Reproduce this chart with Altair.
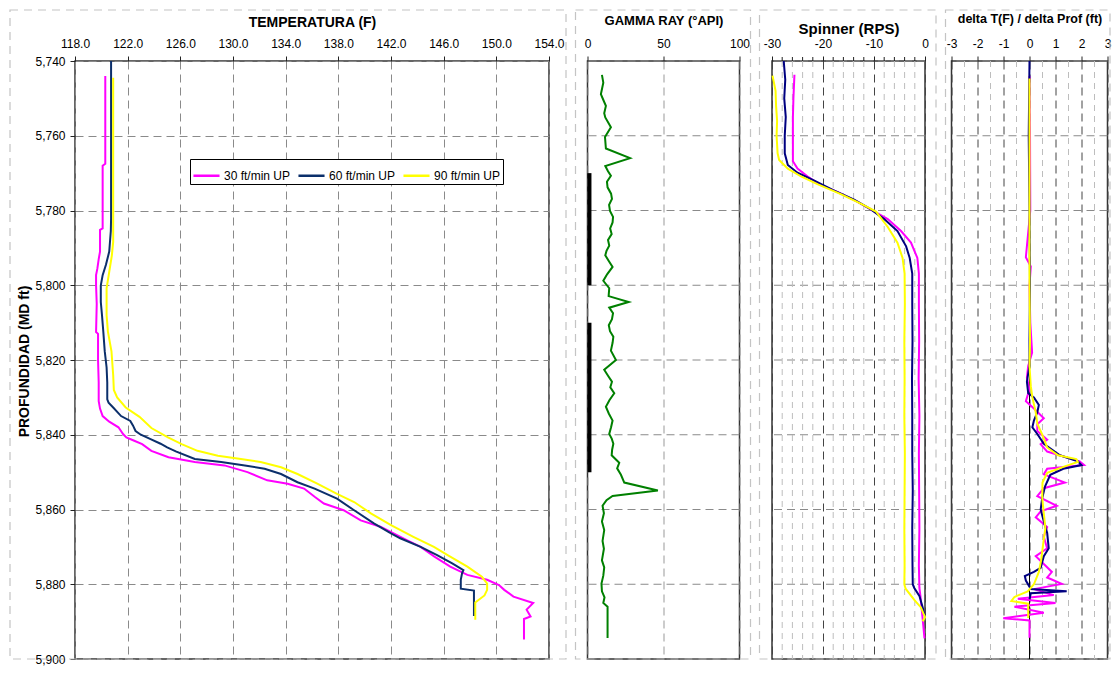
import altair as alt
import pandas as pd

FONT = "Liberation Sans"

# ---------------- data ----------------
series_names = ["30 ft/min UP", "60 ft/min UP", "90 ft/min UP"]
temp_colors = ["#FF00FF", "#0B2F6B", "#FFFF00"]
line_colors = ["#FF00FF", "#000080", "#FFFF00"]

depth_ticks = [5740, 5760, 5780, 5800, 5820, 5840, 5860, 5880, 5900]
temp_ticks = [118, 122, 126, 130, 134, 138, 142, 146, 150, 154]
gamma_ticks = [0, 50, 100]
spin_ticks = [-30, -20, -10, 0]
spin_minor = [-28, -26, -24, -22, -18, -16, -14, -12, -8, -6, -4, -2]
delta_ticks = [-3, -2, -1, 0, 1, 2, 3]
delta_minor = [-2.5, -1.5, -0.5, 0.5, 1.5, 2.5]

# temperature (F)
t30_depth = [5744, 5750, 5760, 5767.5, 5768, 5775, 5784.8, 5785.2, 5791, 5793, 5795.5, 5797.3, 5800, 5805,
             5812.5, 5813, 5820, 5826, 5831, 5833, 5835, 5836.5, 5838, 5839.8, 5840.7, 5841.6, 5842.5, 5844.3,
             5846, 5847.3, 5848.2, 5850, 5852.2, 5853.1, 5854.4, 5856.6, 5858.4, 5860.2, 5862.9, 5864.6, 5868.2,
             5870, 5872.6, 5875.3, 5877.5, 5878.8, 5880.2, 5881.5, 5883.3, 5885, 5886.8, 5888.6, 5889.3, 5894.8]
t30_temp = [120.3, 120.3, 120.3, 120.3, 120.1, 120.1, 120.1, 119.9, 119.9, 119.8, 119.7, 119.6, 119.6, 119.65,
            119.6, 119.75, 119.75, 119.8, 119.8, 119.9, 120.1, 120.6, 121.3, 121.65, 121.9, 122.5, 123.1, 123.8,
            125.1, 127.1, 129.35, 131.1, 132.6, 134.15, 135.4, 136.2, 136.9, 138.4, 139.7, 141.2, 143.2,
            144.25, 145.3, 146.5, 147.8, 149.3, 150.2, 150.6, 151.3, 152.8, 152.3, 152.6, 152.1, 152.1]
t60_depth = [5740, 5760, 5782.2, 5785.5, 5791, 5794.5, 5797.3, 5800, 5804.5, 5808, 5812.4, 5817.7, 5822, 5826,
             5830.5, 5831.4, 5832.7, 5835, 5836.3, 5837.5, 5839, 5840, 5841.1, 5842.4, 5843.4, 5844.5, 5846.5,
             5847.3, 5848.2, 5849.1, 5850.5, 5852.7, 5854.4, 5857.1, 5860.2, 5863.7, 5866.4, 5867.7, 5870,
             5872.2, 5874.4, 5876.2, 5877, 5878.8, 5881.2, 5881.7, 5882.5, 5888.5]
t60_temp = [120.74, 120.74, 120.74, 120.72, 120.6, 120.35, 120.1, 119.96, 119.96, 120.05, 120.15, 120.26, 120.4,
            120.45, 120.45, 120.55, 120.9, 121.5, 122.2, 122.4, 122.6, 123.0, 123.7, 124.5, 125.0, 125.7, 127.1,
            129.1, 130.9, 132.4, 133.65, 134.9, 136.2, 137.9, 139.2, 140.7, 142.0, 142.7, 144.25,
            145.5, 146.65, 147.5, 147.4, 147.3, 147.3, 148.3, 148.3, 148.3]
t90_depth = [5744.5, 5760, 5788.4, 5792, 5796.4, 5800.8, 5808, 5812.4, 5817.7, 5824, 5828, 5830, 5832.7, 5835.2,
             5838.2, 5840.7, 5842.5, 5844.3, 5845.6, 5846.5, 5847.3, 5848.7, 5850.5, 5853.1, 5855.8, 5858,
             5861.1, 5864.2, 5867.3, 5870, 5872.2, 5875.3, 5878, 5879.8, 5881.5, 5883, 5884.9, 5889.5]
t90_temp = [120.9, 120.9, 120.9, 120.8, 120.6, 120.4, 120.4, 120.5, 120.77, 120.9, 120.95, 121.2, 121.85, 122.9,
            123.8, 125.06, 126.1, 127.3, 128.85, 130.6, 132.1, 133.65, 134.9, 136.4, 137.9, 139.2,
            140.5, 142.0, 143.7, 145.26, 146.3, 147.8, 148.9, 149.3, 149.3, 149.1, 148.4, 148.4]

# gamma ray (API)
gamma_depth = [5743.7, 5745.8, 5748.9, 5750.5, 5752, 5754, 5755.1, 5757.7, 5760.3, 5763.4, 5766, 5768.1, 5769.5,
               5770.7, 5772.3, 5773.8, 5775.5, 5776.9, 5778.5, 5780.1, 5781.7, 5783.2, 5784.8, 5786.3, 5787.9,
               5789.4, 5790.8, 5792, 5793.5, 5795.1, 5797, 5798.8, 5800.8, 5802.9, 5804.5, 5806, 5807.5, 5809.1,
               5810.7, 5812.3, 5813.8, 5815.4, 5817.5, 5820, 5822.6, 5824.2, 5825.8, 5827.3, 5828.9, 5830.7,
               5832.5, 5834.3, 5836.2, 5838, 5839.8, 5841.1, 5842.4, 5844, 5845.5, 5847.5, 5849, 5850.7, 5852.8,
               5854.9, 5856.4, 5857.5, 5859, 5861, 5863.2, 5865.5, 5868.4, 5870.5, 5873.6, 5875.5, 5877.7,
               5879.8, 5881.9, 5883.5, 5885, 5886, 5894.4]
gamma_api = [9.5, 10.4, 8.8, 10.5, 12.1, 11, 11.7, 15.4, 11.5, 12.1, 28, 11.7, 13.5,
             15.4, 12.8, 13.2, 15.5, 16.1, 14.2, 14.8, 16.8, 16.5, 14.9, 15.9, 13.5,
             14.3, 12.5, 11.7, 14, 16.5, 13, 10.4, 14.3, 13.9, 27.1, 14.3, 16.8, 16.1,
             14, 14.8, 17, 16.5, 15.4, 18.7, 11, 13.5, 16.1, 15, 17.6, 14.5,
             12.1, 14, 16.5, 15.5, 14.3, 16, 17, 16.2, 15.9, 20.9, 19.5, 22, 24.2,
             46.3, 16.5, 12.5, 9.9, 10.8, 9.5, 11, 9.9, 10.8, 9.5, 11, 10.4,
             9.2, 9.5, 11.2, 10.4, 13.2, 13.2]
perf_top = [5770, 5810]
perf_bottom = [5800, 5850]

# spinner (RPS)
s30_depth = [5743.7, 5750, 5755, 5760, 5766.8, 5768.8, 5770.9, 5773, 5775.1, 5777.7, 5780.3, 5782.3, 5785.5,
             5788.6, 5792.7, 5796.9, 5805, 5815, 5825, 5835, 5845, 5855, 5865, 5875, 5881, 5883.1, 5886,
             5889.4, 5894.5]
s30_rps = [-25.6, -25.8, -25.9, -25.9, -25.9, -25.0, -23.0, -20.7, -17.1, -13.2, -9.9, -7.3, -4.7,
           -2.75, -1.5, -1.2, -1.2, -1.15, -1.25, -1.1, -1.2, -1.15, -1.1, -1.2, -1.1, -0.9, -0.7,
           -0.45, -0.1]
s60_depth = [5740, 5745, 5750, 5755, 5760, 5764.7, 5767.8, 5769.9, 5772, 5774.5, 5777.1, 5779.7, 5782.3,
             5785.5, 5789.6, 5792.7, 5796.9, 5805, 5815, 5825, 5835, 5845, 5855, 5865, 5875, 5880, 5881,
             5883.1, 5886.2, 5888.3]
s60_rps = [-27.7, -27.4, -27.6, -27.3, -27.5, -27.5, -26.9, -25.0, -21.7, -18.1, -13.9, -10.6, -8.0,
           -5.4, -3.7, -3.0, -2.5, -2.5, -2.45, -2.55, -2.5, -2.5, -2.4, -2.5, -2.45, -2.4, -2.1,
           -1.1, -0.45, -0.1]
s90_depth = [5743.9, 5748, 5752, 5756, 5760, 5764.7, 5766.5, 5768.8, 5770.9, 5773, 5775.6, 5778.2, 5780.3,
             5784.4, 5788.6, 5792.7, 5796.9, 5805, 5815, 5825, 5835, 5845, 5855, 5865, 5875, 5880, 5881.2,
             5884.2, 5886.2, 5888.8, 5889.9]
s90_rps = [-29.9, -29.3, -29.2, -29.0, -29.1, -28.9, -28.6, -26.9, -24.3, -21.0, -16.5, -12.5, -9.6,
           -7.3, -5.4, -4.4, -4.0, -3.95, -4.05, -4.0, -4.05, -3.95, -4.0, -4.05, -4.0, -4.05, -3.8,
           -2.1, -0.8, 0.0, -0.45]

# delta T / delta depth
d30_depth = [5744, 5760, 5780, 5792.5, 5795, 5800, 5810, 5818, 5821.6, 5824.7, 5827.8, 5831, 5833, 5835.6,
             5837.2, 5839, 5841.3, 5842.5, 5844.5, 5847.1, 5848.1, 5849.1, 5850.6, 5852.8, 5854.3, 5856.4,
             5859, 5860.5, 5862.1, 5864.7, 5867.3, 5870.4, 5872.5, 5874.6, 5876.7, 5878.2, 5879.9, 5881.3,
             5882.9, 5883.9, 5885, 5886, 5887.6, 5889.1, 5889.7, 5894.3]
d30_val = [0, 0.02, 0.03, -0.14, 0.05, 0, 0.03, 0.1, -0.05, -0.1, 0, -0.14, 0.17, 0.55,
           0.3, 0.3, 0.68, 0.43, 0.68, 1.93, 2.1, 0.68, 0.55, 1.36, 0.55, 0.3,
           1.05, 0.43, 0.24, 0.68, 0.55, 0.68, 0.24, 0.55, 0.86, 0.68, 1.24, 0.17,
           0.93, -0.45, 1.0, -0.58, 0.55, -1.01, 0, 0]
d60_depth = [5740, 5760, 5780, 5800, 5815, 5821.6, 5825.8, 5828.9, 5830, 5832, 5834, 5836.2, 5838, 5839.8,
             5842.4, 5845.5, 5847.1, 5848.1, 5849.1, 5850.7, 5853.8, 5856.9, 5860, 5863.2, 5866.3, 5870.4,
             5872.5, 5875.6, 5876.7, 5877.8, 5879, 5881.3, 5881.9, 5882.4, 5884]
d60_val = [0, -0.03, 0, 0.02, 0, 0, -0.1, -0.05, 0.17, 0.36, 0.3, 0.17, 0.11, 0.3,
           0.55, 1.17, 1.86, 2.0, 1.3, 0.8, 0.6, 0.49, 0.43, 0.55, 0.68, 0.74,
           0.55, 0.43, 0.17, -0.18, -0.14, 0.05, 1.43, 0.05, 0]
d90_depth = [5744.7, 5760, 5780, 5800, 5815, 5821.6, 5827, 5830, 5834, 5837, 5840, 5843.4, 5845.5, 5846.5,
             5847.3, 5848.6, 5850.2, 5852.8, 5857, 5861, 5865, 5869, 5873.5, 5876.7, 5880, 5881.9, 5883.4,
             5884.5, 5885.2, 5889]
d90_val = [0, 0, 0, 0, 0.02, 0, 0.05, 0.11, 0.24, 0.3, 0.49, 0.68, 1.1, 1.8,
           1.86, 1.3, 0.68, 0.5, 0.49, 0.55, 0.61, 0.53, 0.45, 0.36, 0.17, -0.07, -0.58,
           -0.7, -0.05, -0.05]


def make_df(depths, values):
    rows = []
    for name, ds, vs in zip(series_names, depths, values):
        for i, (d, v) in enumerate(zip(ds, vs)):
            rows.append({"series": name, "depth": d, "value": v, "idx": i})
    return pd.DataFrame(rows)


temp_df = make_df([t30_depth, t60_depth, t90_depth], [t30_temp, t60_temp, t90_temp])
spin_df = make_df([s30_depth, s60_depth, s90_depth], [s30_rps, s60_rps, s90_rps])
delta_df = make_df([d30_depth, d60_depth, d90_depth], [d30_val, d60_val, d90_val])
gamma_df = pd.DataFrame({"depth": gamma_depth, "value": gamma_api, "idx": list(range(len(gamma_depth)))})
perf_df = pd.DataFrame({"depth": perf_top, "depth_end": perf_bottom})
depth_grid_df = pd.DataFrame({"depth": depth_ticks})

# ---------------- layout ----------------
H = 598
W1, W2, W3, W4 = 474, 152, 153, 156
FRAME_TOP = -51
FRAME_SW = 1.2
GRID = "#8a8a8a"

y_scale = alt.Scale(domain=[5740, 5900], reverse=True, nice=False, zero=False)

y_axis_main = alt.Axis(values=depth_ticks, format=",d", title="PROFUNDIDAD (MD ft)", titleFontSize=14,
                       titleX=-51, titleY=300, titleAlign="center", titleBaseline="middle", titleAngle=270,
                       labelPadding=5, tickSize=5, labelFlush=False, grid=True, gridColor=GRID,
                       gridDash=[8, 5])


def frame(w, left, right):
    return alt.Chart(alt.Data(values=[{}])).mark_rect(
        filled=False, stroke="#c4c4c4", strokeDash=[8, 6], strokeWidth=FRAME_SW
    ).encode(x=alt.value(-left), x2=alt.value(w + right), y=alt.value(FRAME_TOP), y2=alt.value(H))


def depth_grid():
    return alt.Chart(depth_grid_df).mark_rule(color=GRID, strokeDash=[8, 5]).encode(
        y=alt.Y("depth:Q", scale=y_scale, axis=None))


def top_axis(values, title, size, ty, fmt=None, grid_color=GRID, grid_dash=(8, 5), plain=False):
    kw = dict(orient="top", values=values, title=title, titleFontSize=size, titleY=ty,
              titleBaseline="middle", labelBaseline="middle", labelPadding=12.5, tickSize=5,
              labelFlush=False, labelOverlap=False,
              grid=True, gridColor=grid_color, gridDash=list(grid_dash))
    if fmt:
        kw["format"] = fmt
    if plain:
        kw["labelExpr"] = "'' + datum.value"
    return alt.Axis(**kw)


# Panel 1 : temperature
temp_axis = top_axis(temp_ticks, "TEMPERATURA (F)", 14, -38.5, fmt=".1f")
legend = alt.Legend(orient="none", legendX=115, legendY=98, direction="horizontal", title=None,
                    symbolType="stroke", symbolStrokeWidth=2.5, symbolSize=680, labelFontSize=12,
                    labelFont=FONT, labelColor="black", fillColor="white", strokeColor="black",
                    padding=2, columnPadding=2, labelOffset=3)
p1_lines = alt.Chart(temp_df).mark_line(strokeWidth=2).encode(
    x=alt.X("value:Q", scale=alt.Scale(domain=[118, 154], nice=False, zero=False), axis=temp_axis),
    y=alt.Y("depth:Q", scale=y_scale, axis=y_axis_main),
    color=alt.Color("series:N", scale=alt.Scale(domain=series_names, range=temp_colors), legend=legend),
    order=alt.Order("idx:Q"),
)
p1 = alt.layer(frame(W1, 65, 17), p1_lines).properties(width=W1, height=H)

# Panel 2 : gamma ray
gamma_axis = top_axis(gamma_ticks, "GAMMA RAY (°API)", 13, -40.5, grid_color="#999999")
gamma_x = alt.Scale(domain=[0, 100], nice=False, zero=False)
p2_perf = alt.Chart(perf_df).mark_rect(color="black").encode(
    x=alt.datum(0, scale=gamma_x, axis=gamma_axis), x2=alt.datum(2.6),
    y=alt.Y("depth:Q", scale=y_scale, axis=None), y2="depth_end:Q",
)
p2_line = alt.Chart(gamma_df).mark_line(color="#008000", strokeWidth=2).encode(
    x=alt.X("value:Q", scale=gamma_x, axis=gamma_axis),
    y=alt.Y("depth:Q", scale=y_scale, axis=None),
    order=alt.Order("idx:Q"),
)
p2 = alt.layer(frame(W2, 12, 11), depth_grid(), p2_perf, p2_line).properties(width=W2, height=H)

# Panel 3 : spinner
spin_axis = top_axis(spin_ticks, "Spinner (RPS)", 15, -33, grid_color="#444444", plain=True)
spin_x = alt.Scale(domain=[-30, 0], nice=False, zero=False)
spin_minor_df = pd.DataFrame({"value": spin_minor})
p3_minor = alt.Chart(spin_minor_df).mark_rule(color="#bdbdbd", strokeDash=[6, 5]).encode(
    x=alt.X("value:Q", scale=spin_x, axis=spin_axis))
p3_mticks = alt.Chart(spin_minor_df).mark_rule(color="#222222").encode(
    x=alt.X("value:Q", scale=spin_x, axis=spin_axis), y=alt.value(-4), y2=alt.value(0))
p3_lines = alt.Chart(spin_df).mark_line(strokeWidth=2).encode(
    x=alt.X("value:Q", scale=spin_x, axis=spin_axis),
    y=alt.Y("depth:Q", scale=y_scale, axis=None),
    color=alt.Color("series:N", scale=alt.Scale(domain=series_names, range=line_colors), legend=None),
    order=alt.Order("idx:Q"),
)
p3 = alt.layer(frame(W3, 12.5, 11), depth_grid(), p3_minor, p3_mticks, p3_lines).properties(width=W3, height=H)

# Panel 4 : delta T / delta depth
delta_axis = top_axis(delta_ticks, "delta T(F) / delta Prof (ft)", 12.5, -42.5, grid_color="#444444",
                      plain=True)
delta_x = alt.Scale(domain=[-3, 3], nice=False, zero=False)
delta_minor_df = pd.DataFrame({"value": delta_minor})
p4_minor = alt.Chart(delta_minor_df).mark_rule(color="#bdbdbd", strokeDash=[6, 5]).encode(
    x=alt.X("value:Q", scale=delta_x, axis=delta_axis))
p4_zero = alt.Chart(alt.Data(values=[{}])).mark_rule(color="black", strokeWidth=1).encode(
    x=alt.datum(0, scale=delta_x, axis=delta_axis))
p4_lines = alt.Chart(delta_df).mark_line(strokeWidth=2).encode(
    x=alt.X("value:Q", scale=delta_x, axis=delta_axis),
    y=alt.Y("depth:Q", scale=y_scale, axis=None),
    color=alt.Color("series:N", scale=alt.Scale(domain=series_names, range=line_colors), legend=None),
    order=alt.Order("idx:Q"),
)
p4 = alt.layer(frame(W4, 6, 2.5), depth_grid(), p4_minor, p4_zero, p4_lines).properties(width=W4, height=H)

chart = alt.hconcat(p1, p2, p3, p4, spacing=5.5).resolve_scale(color="independent").resolve_legend(
    color="independent"
).properties(
    padding={"left": 0, "top": 0, "right": 0, "bottom": 0}
).configure_view(
    stroke="#333333", strokeWidth=1.5
).configure_axis(
    labelFont=FONT, titleFont=FONT, labelFontSize=12, labelColor="black", titleColor="black",
    titleFontWeight="bold", tickColor="#222222", domain=False, gridWidth=1
)

chart.save("out.html", embed_options={"renderer": "svg", "actions": False})
